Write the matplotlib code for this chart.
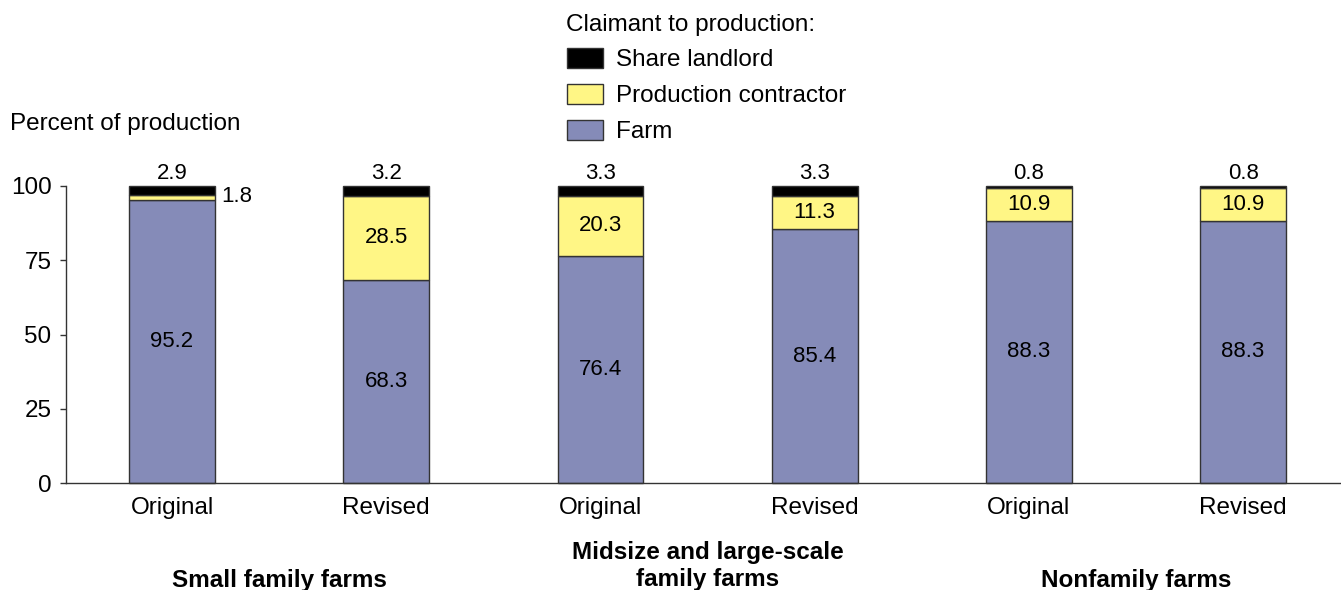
import matplotlib.pyplot as plt
from matplotlib.patches import Rectangle
from matplotlib.transforms import blended_transform_factory

plt.rcParams['font.family'] = ['Liberation Sans', 'DejaVu Sans']

# data
bar_labels = ['Original', 'Revised', 'Original', 'Revised', 'Original', 'Revised']
groups = ['Small family farms', 'Midsize and large-scale\nfamily farms', 'Nonfamily farms']
farm = [95.2, 68.3, 76.4, 85.4, 88.3, 88.3]
contractor = [1.8, 28.5, 20.3, 11.3, 10.9, 10.9]
landlord = [2.9, 3.2, 3.3, 3.3, 0.8, 0.8]
series_names = ['Share landlord', 'Production contractor', 'Farm']
yticks = [0, 25, 50, 75, 100]

c_farm = '#858bb8'
c_contr = '#fff685'
c_land = '#000000'
edge = '#333333'

W, H = 1341, 590
fig = plt.figure(figsize=(W / 100, H / 100), dpi=100)
ax = fig.add_axes([66 / W, 1 - 483 / H, 1 - 66 / W, (483 - 186) / H])

x = list(range(len(farm)))
w = 0.40
ax.bar(x, farm, w, color=c_farm, edgecolor=edge, linewidth=1, clip_on=False)
ax.bar(x, contractor, w, bottom=farm, color=c_contr, edgecolor=edge, linewidth=1, clip_on=False)
bot2 = [f + c for f, c in zip(farm, contractor)]
ax.bar(x, landlord, w, bottom=bot2, color=c_land, edgecolor=edge, linewidth=1, clip_on=False)

fs = 17.5
vfs = 16
for i in x:
    ax.text(i, farm[i] / 2, f'{farm[i]:.1f}', ha='center', va='center', fontsize=vfs)
    if contractor[i] > 5:
        ax.text(i, farm[i] + contractor[i] / 2, f'{contractor[i]:.1f}', ha='center', va='center', fontsize=vfs)
    else:
        ax.text(i + w / 2 + 0.03, 96.3, f'{contractor[i]:.1f}', ha='left', va='center', fontsize=vfs)
    ax.text(i, bot2[i] + landlord[i] + 4.3, f'{landlord[i]:.1f}', ha='center', va='center', fontsize=vfs)

ax.set_xlim(-0.495, 5.457)
ax.set_ylim(0, 100)
ax.set_yticks(yticks)
ax.set_xticks(x)
ax.set_xticklabels(bar_labels, fontsize=fs)
ax.tick_params(axis='y', labelsize=fs, length=4.5, width=1, color=edge, pad=6)
ax.tick_params(axis='x', length=0, pad=10)
for s in ['top', 'right']:
    ax.spines[s].set_visible(False)
for s in ['left', 'bottom']:
    ax.spines[s].set_color(edge)
    ax.spines[s].set_linewidth(1)

# group labels: x in data, y in figure
grp_tr = blended_transform_factory(ax.transData, fig.transFigure)
for g, name in enumerate(groups):
    xc = 2 * g + 0.5
    yc = 580 if '\n' not in name else 566
    ax.text(xc, 1 - yc / H, name, transform=grp_tr, ha='center', va='center',
            fontsize=fs, fontweight='bold', linespacing=1.25)

fig.text(10 / W, 1 - 124 / H, 'Percent of production', ha='left', va='center', fontsize=fs)

# legend drawn by hand
fig.text(566 / W, 1 - 25 / H, 'Claimant to production:', ha='left', va='center', fontsize=fs)
for k, (name, col) in enumerate(zip(series_names, [c_land, c_contr, c_farm])):
    yc = 58 + 36 * k
    fig.patches.append(Rectangle((567 / W, 1 - (yc + 10) / H), 36 / W, 20 / H,
                                 transform=fig.transFigure, facecolor=col, edgecolor=edge, linewidth=1))
    fig.text(616 / W, 1 - (yc + 2) / H, name, ha='left', va='center', fontsize=fs)

fig.savefig('out.png', dpi=100)
